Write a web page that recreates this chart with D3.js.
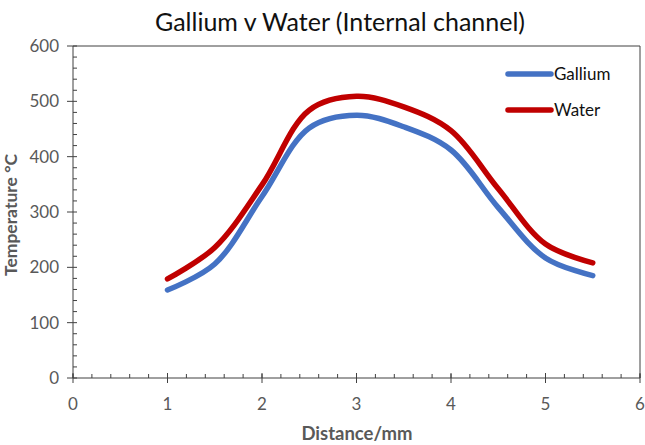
<!DOCTYPE html>
<html><head><meta charset="utf-8">
<script src="https://cdn.jsdelivr.net/npm/d3@7/dist/d3.min.js"></script>
<style>body{margin:0;background:#fff}svg{display:block}</style>
</head><body><svg id="c" width="645" height="445"></svg>
<script>
const distance = [1, 1.5, 2, 2.5, 3, 3.5, 4, 4.5, 5, 5.5];
const gallium = [159, 206, 328, 452, 475, 454, 412, 308, 217, 185];
const water = [179, 236, 349, 484, 509, 490, 447, 342, 242, 208];
const xTicks = [0, 1, 2, 3, 4, 5, 6];
const yTicks = [0, 100, 200, 300, 400, 500, 600];
const seriesNames = ["Gallium", "Water"];
const colors = ["#4472C4", "#C00000"];

const svg = d3.select("#c");
const L = 73, R = 640, T = 46, B = 378;
const x = d3.scaleLinear().domain([0, 6]).range([L, R]);
const y = d3.scaleLinear().domain([0, 600]).range([B, T]);
const axisCol = "#404040", textCol = "#595959";
const font = "Lato, 'Open Sans', sans-serif";

// title
svg.append("text").attr("x", 340).attr("y", 31).attr("text-anchor", "middle")
  .attr("font-family", font).attr("font-size", 25).attr("fill", "#111")
  .text("Gallium v Water (Internal channel)");

// box top/right
svg.append("line").attr("x1", L).attr("x2", R).attr("y1", T).attr("y2", T).attr("stroke", axisCol);
svg.append("line").attr("x1", R).attr("x2", R).attr("y1", T).attr("y2", B).attr("stroke", axisCol);

// y axis
const yMinor = d3.range(0, 601, 20);
const gy = svg.append("g");
gy.selectAll("line.mi").data(yMinor).join("line").attr("x1", L).attr("x2", L + 4)
  .attr("y1", d => y(d)).attr("y2", d => y(d)).attr("stroke", axisCol);
gy.selectAll("line.ma").data(yTicks).join("line").attr("x1", L - 6).attr("x2", L)
  .attr("y1", d => y(d)).attr("y2", d => y(d)).attr("stroke", axisCol);
gy.append("line").attr("x1", L).attr("x2", L).attr("y1", T).attr("y2", B).attr("stroke", axisCol);
gy.selectAll("text").data(yTicks).join("text").attr("x", L - 14).attr("y", d => y(d))
  .attr("dy", "0.35em").attr("text-anchor", "end").attr("font-family", font)
  .attr("font-size", 17).attr("fill", textCol).text(d => d);

// x axis
const xMinor = d3.range(0, 31).map(i => i * 0.2);
const gx = svg.append("g");
gx.selectAll("line.mi").data(xMinor).join("line").attr("x1", d => x(d)).attr("x2", d => x(d))
  .attr("y1", B - 4).attr("y2", B).attr("stroke", axisCol);
gx.selectAll("line.ma").data(xTicks).join("line").attr("x1", d => x(d)).attr("x2", d => x(d))
  .attr("y1", B - 5).attr("y2", B + 5).attr("stroke", axisCol);
gx.append("line").attr("x1", L).attr("x2", R).attr("y1", B).attr("y2", B).attr("stroke", axisCol);
gx.selectAll("text").data(xTicks).join("text").attr("x", d => x(d)).attr("y", 404)
  .attr("dy", "0.35em").attr("text-anchor", "middle").attr("font-family", font)
  .attr("font-size", 17).attr("fill", textCol).text(d => d);

// axis titles
svg.append("text").attr("x", 357).attr("y", 440).attr("text-anchor", "middle")
  .attr("font-family", font).attr("font-weight", "bold").attr("font-size", 18.5)
  .attr("fill", textCol).text("Distance/mm");
svg.append("text").attr("transform", "translate(17,215) rotate(-90)").attr("text-anchor", "middle")
  .attr("font-family", font).attr("font-weight", "bold").attr("font-size", 17.5)
  .attr("fill", textCol).text("Temperature °C");

// lines
const line = d3.line().x(d => x(d[0])).y(d => y(d[1])).curve(d3.curveCatmullRom.alpha(0.5));
[gallium, water].forEach((s, i) => {
  svg.append("path").datum(distance.map((d, j) => [d, s[j]]))
    .attr("d", line).attr("fill", "none").attr("stroke", colors[i])
    .attr("stroke-width", 5.5).attr("stroke-linecap", "round");
});

// legend
seriesNames.forEach((n, i) => {
  const ly = 74 + i * 36;
  svg.append("line").attr("x1", 508).attr("x2", 551).attr("y1", ly).attr("y2", ly)
    .attr("stroke", colors[i]).attr("stroke-width", 5.5).attr("stroke-linecap", "round");
  svg.append("text").attr("x", 554).attr("y", ly).attr("dy", "0.35em")
    .attr("font-family", font).attr("font-size", 17).attr("fill", "#111").text(n);
});
</script></body></html>
